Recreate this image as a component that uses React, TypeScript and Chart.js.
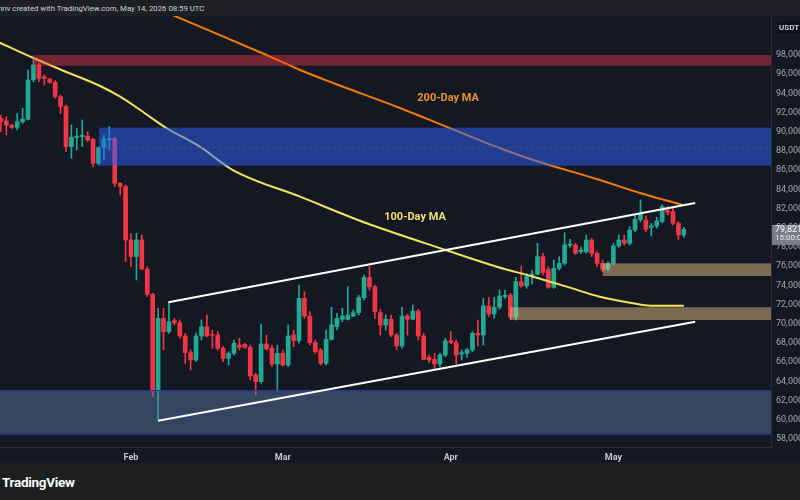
import React, { useEffect, useRef } from "react";
import { Chart, registerables } from "chart.js";

Chart.register(...registerables);

// ---- data (days counted from Feb 1 = 0) ----
const FIRST_DAY = -24;
const opens = [
  91400, 91130, 90670, 90470, 91060, 91300, 95400, 96960, 95740, 95500, 95150, 93660, 92620, 88450, 89430, 89490, 89560, 89220, 86720, 88350, 89150, 89320, 84630, 84290,
  78730, 77000, 78730, 75710, 73070, 62930, 70570, 69180, 70330, 70120, 68730, 66990, 66230, 68730, 69700, 68900, 68830, 67450, 66400, 66920, 67790, 67860, 67550, 64670, 63970, 67900, 67450, 65810,
  66920, 65710, 68830, 68240, 72650, 70810, 68040, 67270, 65880, 68380, 69700, 70470, 70470, 70810, 71160, 72720, 74840, 73870, 71160, 69880, 70470, 68830, 67690, 70810, 70470, 71330, 68730, 66510, 66300, 65810, 66750,
  68240, 68040, 66860, 66920, 67270, 69010, 68830, 71860, 71020, 71720, 72830, 73000, 70700, 74390, 73940, 74910, 75190, 76990, 75670, 73800, 75780, 76300, 78170, 78210, 77510, 77510, 78730, 77340, 76300, 75670,
  76300, 78110, 78730, 78380, 79770, 80850, 80810, 80050, 80190, 80640, 81850, 81680, 80470, 79250,
];
const highs = [
  91750, 91580, 90810, 91920, 92450, 96440, 97480, 97130, 95920, 95570, 95330, 93830, 92790, 90710, 90360, 91230, 90020, 89320, 88450, 89670, 90540, 89430, 84700, 84460,
  79400, 79430, 79250, 75950, 73180, 71610, 71610, 72130, 70570, 70400, 69010, 67270, 69010, 70400, 70920, 69350, 69180, 67620, 67100, 68310, 68490, 67970, 67790, 64840, 69980, 68830, 67790, 67790,
  67270, 69880, 69350, 74040, 73350, 71260, 68310, 67450, 69350, 71720, 71090, 71610, 73870, 71440, 73000, 75080, 75950, 74040, 71510, 70920, 70920, 69010, 71720, 70990, 71960, 71510, 69010, 66750, 66920, 66920, 68490,
  69180, 68310, 67270, 67450, 69180, 70400, 72650, 72760, 72760, 73520, 73520, 73170, 74840, 76020, 75260, 75600, 78380, 77340, 75950, 76650, 76990, 79490, 78800, 78380, 78000, 79250, 78900, 77510, 76650,
  76470, 78380, 79250, 79250, 80120, 81330, 82900, 81230, 80470, 81090, 82380, 82200, 82030, 80640, 80050,
];
const lows = [
  90020, 89670, 90330, 90190, 90880, 91230, 95220, 95220, 94880, 95050, 93490, 91920, 87930, 87240, 88110, 88450, 88970, 86370, 86540, 87060, 88110, 84290, 83420, 76500,
  75950, 74560, 75610, 72830, 62410, 59980, 67270, 69010, 69880, 68490, 65880, 65190, 66060, 68310, 68660, 67450, 67270, 66060, 65710, 66750, 67270, 67450, 64150, 62580, 63800, 67270, 65540, 62930,
  65610, 65540, 67620, 67970, 70570, 67790, 66920, 65710, 65710, 68310, 69350, 70220, 70400, 70740, 70920, 72480, 73520, 70570, 68830, 69350, 68660, 67270, 67450, 68830, 70400, 68310, 66230, 65950, 65360, 65540, 66580,
  67900, 65810, 66230, 66510, 67100, 67690, 67790, 70740, 70570, 71510, 72650, 70470, 70400, 73800, 73700, 74150, 75080, 75080, 73700, 73700, 75600, 76130, 77970, 77240, 77300, 77340, 76990, 75950, 75430,
  75540, 76130, 77970, 78210, 78210, 79600, 80640, 79600, 79150, 79950, 80540, 81330, 80290, 78800, 79010,
];
const closes = [
  91060, 90710, 90470, 91060, 91330, 95400, 96960, 95570, 95540, 95150, 93660, 92620, 88450, 89430, 89560, 89630, 89150, 86720, 88350, 89220, 89320, 84630, 84290, 78730,
  77000, 78730, 75710, 73070, 62930, 70570, 69180, 70220, 70120, 68730, 66990, 66230, 68730, 69700, 68730, 68800, 67450, 66400, 66920, 67970, 67550, 67550, 64560, 63970, 67900, 67380, 65810, 66920,
  65710, 68730, 68240, 72650, 70810, 68040, 67100, 65880, 68380, 69880, 70570, 70810, 70920, 71160, 72720, 74840, 73870, 71260, 69880, 70470, 68830, 67690, 70810, 70470, 71330, 68730, 66300, 66230, 65810, 66750, 68240,
  68040, 66750, 66990, 67270, 69010, 68830, 71860, 71020, 71720, 72900, 72970, 70700, 74390, 73940, 74910, 75190, 76990, 75330, 73800, 75780, 76300, 78210, 78310, 77340, 77690, 78730, 77340, 76300, 75670,
  76300, 78110, 78730, 78380, 79770, 80880, 81510, 79840, 80190, 80710, 82200, 81580, 80470, 79250, 79821,
];

const ma200Days = [-24, 8.1, 25, 31.2, 37.3, 49.6, 58.2, 68.1, 74.2, 86.5, 93.9, 101.8];
const ma200Values = [109800, 102060, 98000, 96440, 95080, 92480, 90530, 88280, 87060, 84980, 83630, 82380];

const ma100Days = [-24.2, -18, -11.9, -5.7, -2, 1.7, 6.6, 12.7, 18.8, 31.2, 43.5, 58.2, 67.5, 74.2, 80.4, 86.5, 92.6, 95.8, 102];
const ma100Values = [99280, 97690, 96230, 94770, 93660, 92270, 90370, 88450, 86020, 83240, 80470, 77660, 75950, 74910, 73870, 72820, 72140, 71890, 71890];

const upperChannelDays = [6.9, 104.1];
const upperChannelValues = [72240, 82580];
const lowerChannelDays = [5.0, 104.1];
const lowerChannelValues = [59910, 70220];

// zones: [startDay, top, bottom]
const supplyZoneRed = [-18.1, 98000, 96880];
const resistanceZoneBlue = [-5.9, 90430, 86470];
const supportZoneUpper = [87.0, 76300, 74980];
const supportZoneLower = [69.9, 71720, 70400];
const demandZoneSlate = [-24.2, 63030, 58520];

const monthDays = [0, 28, 59, 89];
const monthLabels = ["Feb", "Mar", "Apr", "May"];
const priceTicks = [98000, 96000, 94000, 92000, 90000, 88000, 86000, 84000, 82000, 80000, 78000, 76000, 74000, 72000, 70000, 68000, 66000, 64000, 62000, 60000, 58000];

const X_MIN = -24.17;
const X_MAX = 118.08;
const Y_MIN = 57167;
const Y_MAX = 102062;

const lastPrice = 79821;
const lastPriceLabel = "79,821";
const countdownLabel = "15:00:01";

const GREEN = "#22ab94";
const RED = "#f23645";
const BG = "#141823";

const zonesPlugin = {
  id: "zones",
  afterDatasetDraw(chart: any, args: any) {
    if (args.index !== 3) return;
    const { ctx, chartArea } = chart;
    const xs = chart.scales.x;
    const ys = chart.scales.y;
    ctx.save();
    ctx.beginPath();
    ctx.rect(chartArea.left, chartArea.top, chartArea.right - chartArea.left, chartArea.bottom - chartArea.top);
    ctx.clip();
    const box = (z: number[], fill: string) => {
      const x0 = Math.max(chartArea.left, xs.getPixelForValue(z[0]));
      const y0 = ys.getPixelForValue(z[1]);
      const y1 = ys.getPixelForValue(z[2]);
      ctx.fillStyle = fill;
      ctx.fillRect(x0, y0, chartArea.right - x0, y1 - y0);
      return { x0, y0, y1 };
    };
    box(supplyZoneRed, "rgba(242,54,69,0.42)");
    const b = box(resistanceZoneBlue, "rgba(41,98,255,0.5)");
    ctx.strokeStyle = "rgba(70,80,130,0.9)";
    ctx.lineWidth = 1;
    ctx.setLineDash([3, 3]);
    const mid = Math.round((b.y0 + b.y1) / 2) + 0.5;
    ctx.beginPath();
    ctx.moveTo(b.x0, mid);
    ctx.lineTo(chartArea.right, mid);
    ctx.stroke();
    ctx.setLineDash([]);
    box(supportZoneUpper, "rgba(224,190,130,0.5)");
    box(supportZoneLower, "rgba(224,190,130,0.5)");
    const s = box(demandZoneSlate, "rgba(100,130,180,0.42)");
    ctx.strokeStyle = "#28388f";
    ctx.lineWidth = 1.5;
    ctx.beginPath();
    ctx.moveTo(s.x0, s.y0);
    ctx.lineTo(chartArea.right, s.y0);
    ctx.moveTo(s.x0, s.y1);
    ctx.lineTo(chartArea.right, s.y1);
    ctx.stroke();
    ctx.restore();
  },
};

const bgPlugin = {
  id: "bg",
  beforeDraw(chart: any) {
    const { ctx, width, height } = chart;
    ctx.save();
    ctx.fillStyle = BG;
    ctx.fillRect(0, 0, width, height);
    ctx.restore();
  },
};

const labelsPlugin = {
  id: "labels",
  afterDraw(chart: any) {
    const { ctx, chartArea } = chart;
    const xs = chart.scales.x;
    const ys = chart.scales.y;
    ctx.save();
    ctx.font = "bold 11px Roboto";
    ctx.textAlign = "center";
    ctx.textBaseline = "middle";
    ctx.fillStyle = "#e8962a";
    ctx.fillText("200-Day MA", xs.getPixelForValue(58.5), ys.getPixelForValue(93520));
    ctx.fillStyle = "#f0e268";
    ctx.fillText("100-Day MA", xs.getPixelForValue(52.4), ys.getPixelForValue(81120));

    // USDT tag
    ctx.fillStyle = "#0d0f16";
    ctx.fillRect(chartArea.right + 6, 6, 30, 11);
    ctx.fillStyle = "#d1d4dc";
    ctx.font = "bold 8px Roboto";
    ctx.textAlign = "left";
    ctx.fillText("USDT", chartArea.right + 8, 11.5);

    // last price tag
    const py = ys.getPixelForValue(lastPrice);
    ctx.fillStyle = "#7b7e88";
    ctx.fillRect(chartArea.right + 1, py - 4.5, 30, 20);
    ctx.fillStyle = "#ffffff";
    ctx.font = "9px Roboto";
    ctx.fillText(lastPriceLabel, chartArea.right + 4, py);
    ctx.font = "8px Roboto";
    ctx.fillStyle = "#e8e9ec";
    ctx.fillText(countdownLabel, chartArea.right + 4, py + 8.5);
    ctx.restore();
  },
};

export default function App() {
  const ref = useRef<HTMLCanvasElement>(null);

  useEffect(() => {
    const days = opens.map((_, i) => FIRST_DAY + i);
    const colors = opens.map((o, i) => (closes[i] >= o ? GREEN : RED));
    const chart = new Chart(ref.current as HTMLCanvasElement, {
      type: "bar",
      data: {
        datasets: [
          {
            type: "bar",
            data: days.map((d, i) => ({ x: d, y: [lows[i], highs[i]] })) as any,
            backgroundColor: colors,
            barThickness: 1,
            grouped: false,
            borderWidth: 0,
            order: 10,
          } as any,
          {
            type: "bar",
            data: days.map((d, i) => ({ x: d, y: [opens[i], closes[i]] })) as any,
            backgroundColor: colors,
            barThickness: 4,
            grouped: false,
            borderWidth: 0,
            minBarLength: 1,
            order: 9,
          } as any,
          {
            type: "line",
            data: ma200Days.map((d, i) => ({ x: d, y: ma200Values[i] })),
            borderColor: "#f57c00",
            borderWidth: 2,
            pointRadius: 0,
            cubicInterpolationMode: "monotone",
            order: 8,
          } as any,
          {
            type: "line",
            data: ma100Days.map((d, i) => ({ x: d, y: ma100Values[i] })),
            borderColor: "#f2e55c",
            borderWidth: 2,
            pointRadius: 0,
            cubicInterpolationMode: "monotone",
            order: 7,
          } as any,
          {
            type: "line",
            data: upperChannelDays.map((d, i) => ({ x: d, y: upperChannelValues[i] })),
            borderColor: "#ffffff",
            borderWidth: 2,
            pointRadius: 0,
            order: 2,
          } as any,
          {
            type: "line",
            data: lowerChannelDays.map((d, i) => ({ x: d, y: lowerChannelValues[i] })),
            borderColor: "#ffffff",
            borderWidth: 2,
            pointRadius: 0,
            order: 1,
          } as any,
        ],
      },
      options: {
        animation: false,
        responsive: false,
        events: [],
        layout: { padding: 0 },
        plugins: { legend: { display: false }, tooltip: { enabled: false } },
        scales: {
          x: {
            type: "linear",
            min: X_MIN,
            max: X_MAX,
            offset: false,
            grid: { display: false, drawTicks: false },
            border: { display: true, color: "#2a2e39", width: 1 },
            ticks: {
              color: "#c3c6ce",
              font: { family: "Roboto", size: 9, weight: "bold" },
              padding: 5,
              autoSkip: false,
              maxRotation: 0,
              callback: (v: any) => {
                const k = monthDays.indexOf(Number(v));
                return k >= 0 ? monthLabels[k] : "";
              },
            },
            afterBuildTicks: (s: any) => {
              s.ticks = monthDays.map((v) => ({ value: v }));
            },
            afterFit: (s: any) => {
              s.height = 16;
              s.paddingLeft = 0;
              s.paddingRight = 0;
            },
          } as any,
          y: {
            type: "linear",
            position: "right",
            min: Y_MIN,
            max: Y_MAX,
            grid: { display: false, drawTicks: false },
            border: { display: true, color: "#2a2e39", width: 1 },
            ticks: {
              color: "#a3a6af",
              font: { family: "Roboto", size: 9 },
              padding: 5,
              crossAlign: "near",
              autoSkip: false,
              callback: (v: any) => Number(v).toLocaleString("en-US"),
            },
            afterBuildTicks: (s: any) => {
              s.ticks = priceTicks.map((v) => ({ value: v }));
            },
            afterFit: (s: any) => {
              s.width = 29;
              s.paddingTop = 0;
              s.paddingBottom = 0;
            },
          } as any,
        },
      } as any,
      plugins: [bgPlugin, zonesPlugin, labelsPlugin],
    });
    return () => chart.destroy();
  }, []);

  return (
    <div
      style={{
        position: "fixed",
        left: 0,
        top: 0,
        width: 800,
        height: 500,
        background: BG,
        overflow: "hidden",
        fontFamily: "Roboto, sans-serif",
      }}
    >
      <div
        style={{
          position: "absolute",
          left: 0,
          top: 0,
          width: 800,
          height: 16,
          background: "#1f2023",
          color: "#d1d4dc",
          fontSize: 7.8,
          lineHeight: "18px",
          whiteSpace: "nowrap",
          overflow: "hidden",
        }}
      >
        <span style={{ position: "relative", left: -2 }}>
          nnv created with TradingView.com, May 14, 2026 08:59 UTC
        </span>
      </div>
      <canvas
        ref={ref}
        width={800}
        height={447}
        style={{ position: "absolute", left: 0, top: 16, width: 800, height: 447, display: "block" }}
      />
      <div
        style={{
          position: "absolute",
          left: 0,
          top: 463,
          width: 800,
          height: 37,
          background: "#1e1e1e",
        }}
      >
        <span
          style={{
            position: "absolute",
            left: 2,
            top: 11,
            color: "#ffffff",
            fontWeight: 700,
            fontSize: 13.5,
            letterSpacing: -0.3,
            lineHeight: "16px",
          }}
        >
          TradingView
        </span>
      </div>
    </div>
  );
}
